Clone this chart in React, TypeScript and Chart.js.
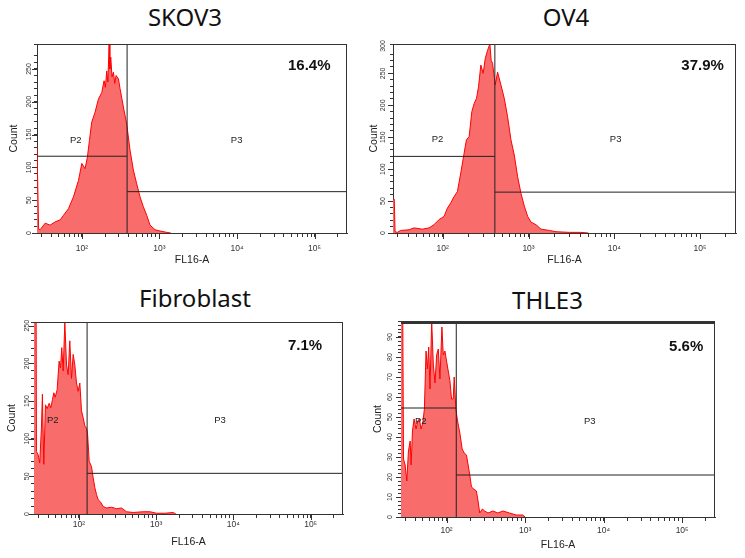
import React, { useEffect, useRef } from 'react';
import { Chart, registerables } from 'chart.js';

Chart.register(...registerables);
Chart.defaults.font.family = '"Liberation Sans", Arial, sans-serif';

// ---------- shared axis values ----------
const X_MIN = 26.3;
const X_MAX = 262144;
const xTickValues = [
  30, 40, 50, 60, 70, 80, 90,
  100, 200, 300, 400, 500, 600, 700, 800, 900,
  1000, 2000, 3000, 4000, 5000, 6000, 7000, 8000, 9000,
  10000, 20000, 30000, 40000, 50000, 60000, 70000, 80000, 90000,
  100000, 200000,
];
const xDecadeValues = [100, 1000, 10000, 100000];
const xDecadeLabels = ['10²', '10³', '10⁴', '10⁵'];

// ---------- SKOV3 ----------
const skov3X = [26.3, 27.0, 27.6, 28.9, 33.5, 38.8, 45.1, 52.3, 57.7, 66.9, 77.6, 90.1, 99.5, 109.7, 117.6, 124.8, 133.7, 147.5, 162.9, 179.9, 192.8, 200.5, 208.7, 216.0, 223.8, 229.0, 235.2, 244.0, 254.5, 265.0, 275.4, 295.2, 309.9, 342.2, 377.6, 417, 460, 508, 561, 619, 684, 755, 876, 1016, 1239, 1400];
const skov3Y = [131, 131, 6, 5, 15, 12, 17, 20, 27, 37, 55, 80, 106, 98, 116, 141, 169, 184, 204, 214, 232, 222, 247, 230, 288, 250, 268, 238, 245, 228, 240, 235, 220, 192, 166, 126, 96, 75, 55, 40, 27, 12, 5, 3, 1, 0];
const skov3YLabels = [0, 50, 100, 150, 200, 250];

// ---------- OV4 ----------
const ov4X = [26.3, 27.2, 27.8, 29.5, 32.3, 40.4, 46.2, 57.8, 69.2, 79.1, 90.6, 103.6, 113.3, 123.9, 135.6, 148.3, 162.2, 177.4, 188.8, 203.1, 218.2, 232.4, 247.4, 261.2, 278, 296, 312.6, 332.7, 354.2, 367, 380.7, 409.3, 435.6, 476.5, 521.2, 570.2, 623.7, 682.3, 746.4, 816.6, 893.3, 977.2, 1069, 1222, 1398, 1751, 2094, 3000, 4000, 5000];
const ov4Y = [53, 53, 2, 1, 4, 5, 8, 6, 8, 13, 21, 26, 39, 47, 57, 65, 94, 125, 146, 151, 190, 203, 211, 229, 263, 250, 273, 286, 296, 270, 266, 232, 252, 232, 211, 182, 146, 122, 88, 62, 42, 26, 17, 13, 6, 4, 2, 1, 1, 0];
const ov4YLabels = [0, 50, 100, 150, 200, 250, 300];

// ---------- Fibroblast ----------
const fibX = [26.3, 27.8, 28.3, 29.7, 31.2, 32.8, 33.8, 35.2, 37, 38.9, 41.3, 43.4, 45.6, 47.5, 49.4, 52.4, 55.6, 57.9, 60.2, 62.7, 65.9, 69.3, 72.8, 76.4, 80.4, 84.5, 88.8, 93.3, 98, 103, 108.3, 113.8, 119.6, 125.7, 129.5, 136.1, 145.9, 153.4, 161.2, 169.4, 178, 190.8, 206.6, 228.2, 264.8, 307.3, 357, 414, 505.6, 681, 831, 1014, 1300, 1660, 1800];
const fibY = [400, 400, 83, 79, 68, 114, 159, 66, 145, 140, 147, 141, 152, 161, 155, 165, 203, 194, 221, 190, 254, 198, 185, 230, 180, 212, 198, 174, 163, 174, 137, 128, 117, 114, 108, 70, 63, 48, 35, 26, 19, 16, 10, 8, 9, 7, 8, 3, 2, 3, 3, 1, 1, 2, 0];
const fibYLabels = [0, 50, 100, 150, 200, 250];

// ---------- THLE3 ----------
const thleX = [26.3, 27.3, 28.3, 29.7, 31.2, 32.7, 34.4, 35.4, 36.8, 38.6, 40.9, 43, 45.1, 47.3, 49.8, 52.2, 54.8, 57, 59.3, 61.5, 64.7, 67.9, 71.3, 74.8, 78.5, 82.4, 87.3, 90.8, 95.3, 100, 105.1, 110.4, 115.8, 121.6, 125.1, 131.4, 138, 147.7, 158.1, 167.5, 179.4, 188.3, 197.7, 207.6, 222, 239.9, 251.8, 264.4, 285.8, 306.2, 337.3, 390, 451, 522, 634, 770, 935, 1000];
const thleY = [150, 150, 29, 26, 18, 33, 38, 26, 43, 49, 44, 48, 49, 44, 47, 54, 83, 74, 85, 64, 98, 76, 67, 81, 84, 69, 95, 81, 83, 78, 73, 68, 59, 59, 70, 54, 48, 42, 34, 32, 31, 26, 21, 15, 14, 13, 8, 2, 4, 3, 2, 3, 2, 3, 2, 1, 1, 0];
const thleYLabels = [0, 10, 20, 30, 40, 50, 60, 70, 80, 90];

// ---------- panel definitions ----------
type Box = {
  left: number; top: number; w: number; h: number;
  padTop: number; padRight: number;
  yAxisW: number; xAxisH: number;
  yTitlePad: number; xTitlePad: number; xTickPad: number;
  yLabelOff: number; titleCx: number; titleTop: number; frameTop: number;
};
type PanelDef = {
  title: string; xs: number[]; ys: number[]; yMax: number; yStep: number; yLabels: number[];
  gateX: number; p2Y: number | null; p3Y: number;
  pct: string; pctAt: [number, number]; p2At: [number, number]; p3At: [number, number];
  box: Box;
};

const panels: PanelDef[] = [
  {
    title: 'SKOV3', xs: skov3X, ys: skov3Y, yMax: 288, yStep: 10, yLabels: skov3YLabels,
    gateX: 382, p2Y: 117, p3Y: 63,
    pct: '16.4%', pctAt: [85500, 254], p2At: [83.3, 141], p3At: [9880, 141],
    box: { left: 0, top: 34, w: 360, h: 236, padTop: 10, padRight: 13, yAxisW: 37, xAxisH: 37,
      yTitlePad: 7.4, xTitlePad: 3.4, xTickPad: 6.2, yLabelOff: 8, titleCx: 185, titleTop: 1.8, frameTop: 1 },
  },
  {
    title: 'OV4', xs: ov4X, ys: ov4Y, yMax: 296, yStep: 10, yLabels: ov4YLabels,
    gateX: 405, p2Y: 120, p3Y: 64,
    pct: '37.9%', pctAt: [107000, 261], p2At: [86.7, 146], p3At: [10350, 146],
    box: { left: 366, top: 34, w: 379, h: 236, padTop: 10, padRight: 9, yAxisW: 27, xAxisH: 37,
      yTitlePad: 1.4, xTitlePad: 3.4, xTickPad: 7, yLabelOff: 9.7, titleCx: 566, titleTop: 1.8, frameTop: 1 },
  },
  {
    title: 'Fibroblast', xs: fibX, ys: fibY, yMax: 255, yStep: 10, yLabels: fibYLabels,
    gateX: 128, p2Y: null, p3Y: 54,
    pct: '7.1%', pctAt: [84500, 223], p2At: [46, 125], p3At: [6700, 125],
    box: { left: 0, top: 312, w: 360, h: 246, padTop: 10, padRight: 17, yAxisW: 34, xAxisH: 44,
      yTitlePad: 6.1, xTitlePad: 9.7, xTickPad: 1.5, yLabelOff: 7, titleCx: 195, titleTop: 283.3, frameTop: 1 },
  },
  {
    title: 'THLE3', xs: thleX, ys: thleY, yMax: 98, yStep: 2, yLabels: thleYLabels,
    gateX: 133, p2Y: 54.5, p3Y: 21,
    pct: '5.6%', pctAt: [112500, 85], p2At: [46.9, 48], p3At: [6650, 48],
    box: { left: 366, top: 312, w: 379, h: 246, padTop: 9, padRight: 30, yAxisW: 35, xAxisH: 41,
      yTitlePad: 5.4, xTitlePad: 6.4, xTickPad: 4.5, yLabelOff: 10.7, titleCx: 547.5, titleTop: 285.3, frameTop: 3 },
  },
];

const FONT = '"Liberation Sans", Arial, sans-serif';

function makeAnnotPlugin(p: PanelDef) {
  return {
    id: 'annot',
    afterDatasetsDraw(chart: any) {
      const { ctx, chartArea: ca } = chart;
      const x = chart.scales.x;
      const y = chart.scales.y;
      ctx.save();
      // frame (top and right)
      ctx.strokeStyle = '#333';
      ctx.lineWidth = 1;
      ctx.beginPath();
      ctx.moveTo(ca.right - 0.5, ca.top);
      ctx.lineTo(ca.right - 0.5, ca.bottom);
      ctx.stroke();
      ctx.lineWidth = p.box.frameTop;
      ctx.beginPath();
      ctx.moveTo(ca.left, ca.top + p.box.frameTop / 2);
      ctx.lineTo(ca.right, ca.top + p.box.frameTop / 2);
      ctx.stroke();

      // longer ticks at the decades and at labelled counts
      ctx.lineWidth = 1;
      ctx.beginPath();
      for (const v of xDecadeValues) {
        const px = Math.round(x.getPixelForValue(v)) + 0.5;
        ctx.moveTo(px, ca.bottom);
        ctx.lineTo(px, ca.bottom + 6);
      }
      for (const v of p.yLabels) {
        if (v > p.yMax) continue;
        const py = Math.round(y.getPixelForValue(v)) + 0.5;
        ctx.moveTo(ca.left, py);
        ctx.lineTo(ca.left - 5, py);
      }
      ctx.stroke();

      // gate labels
      ctx.fillStyle = '#222';
      ctx.textAlign = 'center';
      ctx.textBaseline = 'middle';
      ctx.font = `9.5px ${FONT}`;
      ctx.fillText('P2', x.getPixelForValue(p.p2At[0]), y.getPixelForValue(p.p2At[1]));
      ctx.fillText('P3', x.getPixelForValue(p.p3At[0]), y.getPixelForValue(p.p3At[1]));

      // percentage
      ctx.fillStyle = '#111';
      ctx.font = `bold 15px ${FONT}`;
      ctx.fillText(p.pct, x.getPixelForValue(p.pctAt[0]), y.getPixelForValue(p.pctAt[1]));

      // rotated y tick labels
      ctx.fillStyle = '#333';
      ctx.font = `7px ${FONT}`;
      for (const v of p.yLabels) {
        const py = Math.max(y.getPixelForValue(v), ca.top + 2);
        ctx.save();
        ctx.translate(ca.left - p.box.yLabelOff, py);
        ctx.rotate(-Math.PI / 2);
        ctx.fillText(String(v), 0, 0);
        ctx.restore();
      }
      ctx.restore();
    },
  };
}

function buildConfig(p: PanelDef): any {
  const b = p.box;
  const hist = p.xs.map((xv, i) => ({ x: xv, y: p.ys[i] }));
  const datasets: any[] = [
    {
      data: [{ x: p.gateX, y: 0 }, { x: p.gateX, y: p.yMax }],
      borderColor: '#222', borderWidth: 1, pointRadius: 0, fill: false, order: 1,
    },
    {
      data: [{ x: p.gateX, y: p.p3Y }, { x: X_MAX, y: p.p3Y }],
      borderColor: '#222', borderWidth: 1, pointRadius: 0, fill: false, order: 1,
    },
  ];
  if (p.p2Y !== null) {
    datasets.push({
      data: [{ x: X_MIN, y: p.p2Y }, { x: p.gateX, y: p.p2Y }],
      borderColor: '#222', borderWidth: 1, pointRadius: 0, fill: false, order: 1,
    });
  }
  datasets.push({
    data: hist,
    borderColor: 'rgb(255,0,0)',
    backgroundColor: 'rgb(249,108,108)',
    borderWidth: 1,
    pointRadius: 0,
    tension: 0,
    fill: 'origin',
    order: 2,
  });

  return {
    type: 'line',
    data: { datasets },
    options: {
      responsive: false,
      animation: false,
      events: [],
      layout: { padding: { left: 0, top: b.padTop, right: b.padRight, bottom: 0 } },
      plugins: { legend: { display: false }, tooltip: { enabled: false }, title: { display: false } },
      scales: {
        x: {
          type: 'logarithmic',
          min: X_MIN,
          max: X_MAX,
          afterBuildTicks: (s: any) => { s.ticks = xTickValues.map((v) => ({ value: v })); },
          afterFit: (s: any) => { s.height = b.xAxisH; },
          grid: { drawOnChartArea: false, drawTicks: true, tickLength: 4, color: '#333', lineWidth: 1 },
          border: { display: true, color: '#333', width: 1 },
          ticks: {
            autoSkip: false, maxRotation: 0, minRotation: 0, padding: b.xTickPad,
            color: '#333', font: { family: FONT, size: 8.5 },
            callback: (v: any) => {
              const i = xDecadeValues.indexOf(Number(v));
              return i >= 0 ? xDecadeLabels[i] : '';
            },
          },
          title: {
            display: true, text: 'FL16-A', color: '#222',
            font: { family: FONT, size: 10.5 },
            padding: { top: 0, bottom: b.xTitlePad },
          },
        },
        y: {
          type: 'linear',
          min: 0,
          max: p.yMax,
          afterFit: (s: any) => { s.width = b.yAxisW; },
          grid: { drawOnChartArea: false, drawTicks: true, tickLength: 3, color: '#333', lineWidth: 1 },
          border: { display: true, color: '#333', width: 1 },
          ticks: { display: false, stepSize: p.yStep },
          title: {
            display: true, text: 'Count', color: '#222',
            font: { family: FONT, size: 10.5 },
            padding: { top: b.yTitlePad, bottom: 0 },
          },
        },
      },
    },
    plugins: [makeAnnotPlugin(p)],
  };
}

function HistogramPanel({ p }: { p: PanelDef }) {
  const ref = useRef<HTMLCanvasElement>(null);
  useEffect(() => {
    const canvas = ref.current;
    if (!canvas) return;
    const chart = new Chart(canvas, buildConfig(p));
    return () => chart.destroy();
  }, [p]);
  const b = p.box;
  return (
    <>
      <div
        style={{
          position: 'absolute', left: b.titleCx - 100, top: b.titleTop, width: 200,
          textAlign: 'center', fontFamily: '"Noto Sans", "Open Sans", sans-serif',
          fontSize: 24, lineHeight: '30px', color: '#111', whiteSpace: 'nowrap',
        }}
      >
        {p.title}
      </div>
      <canvas
        ref={ref}
        width={b.w}
        height={b.h}
        style={{ position: 'absolute', left: b.left, top: b.top, width: b.w, height: b.h }}
      />
    </>
  );
}

export default function App() {
  return (
    <div style={{ position: 'absolute', left: 0, top: 0, width: 745, height: 558, background: '#fff', overflow: 'hidden' }}>
      {panels.map((p) => (
        <HistogramPanel key={p.title} p={p} />
      ))}
    </div>
  );
}
